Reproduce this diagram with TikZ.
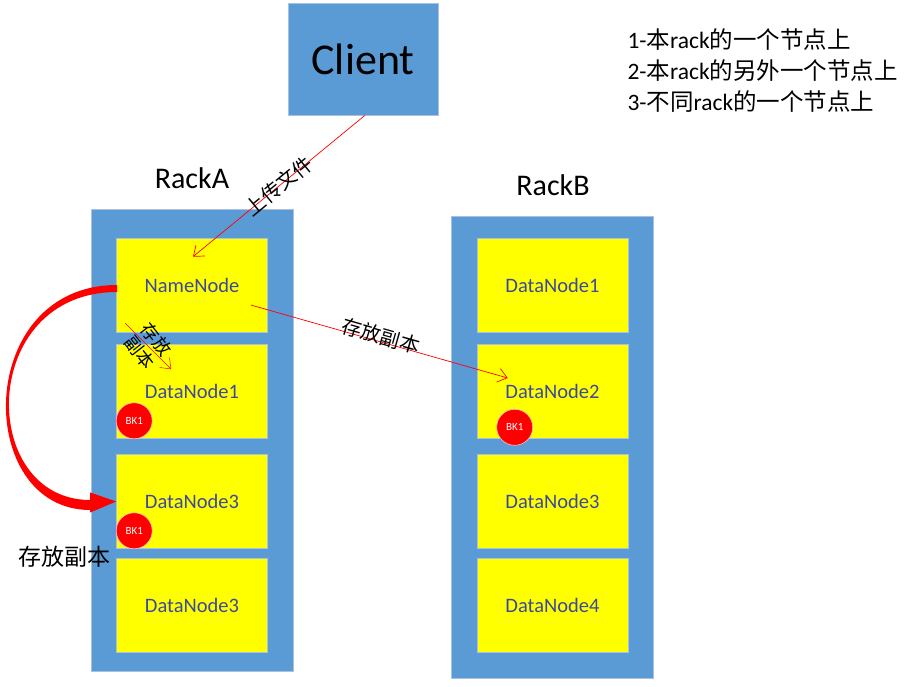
\documentclass[tikz,border=0pt]{standalone}
\usepackage{fontspec}
\setmainfont{Carlito}
\newfontfamily\cjk{Noto Sans CJK SC}
\usetikzlibrary{calc,arrows.meta}
\definecolor{rackblue}{HTML}{5B9BD5}
\definecolor{rackedge}{HTML}{A9C1E0}
\definecolor{nodetext}{HTML}{3A4A9E}
\definecolor{nodeyellow}{HTML}{FFFF00}
\def\fs#1{\fontsize{#1}{#1}\selectfont}
\tikzset{
	rack/.style={fill=rackblue, draw=rackedge, line width=0.6pt, minimum width=202pt, minimum height=462pt, inner sep=0pt},
	dnode/.style={fill=nodeyellow, draw=rackedge, line width=0.6pt, minimum width=151pt, minimum height=94pt, inner sep=0pt, text=nodetext, font=\fs{20.5}},
	bk/.style={circle, fill=red, draw=red!25, line width=0.6pt, minimum size=36pt, inner sep=0pt, text=white, font=\fs{11}},
	redline/.style={red, line width=0.7pt, -{Straight Barb[length=9pt,width=14pt]}},
	arrowlabel/.style={text=black, inner sep=1pt},
}

\begin{document}
\begin{tikzpicture}[x=1pt, y=1pt]
			%%%%% START %%%%%
			\useasboundingbox (0,0) rectangle (916,686);
			
			\node[fill=rackblue, draw=rackedge, line width=0.6pt, minimum width=150pt, minimum height=112pt, font=\fs{44}] (client) at (363,627) {Client};
			
			\node[anchor=west, font=\fs{23.5}] (l1) at (624,646) {1-{\cjk 本}rack{\cjk 的一个节点上}};
			\node[anchor=west, font=\fs{23.5}] (l2) at (624,615) {2-{\cjk 本}rack{\cjk 的另外一个节点上}};
			\node[anchor=west, font=\fs{23.5}] (l3) at (624,584) {3-{\cjk 不同}rack{\cjk 的一个节点上}};
			
			\node[font=\fs{30}] (laba) at (192,508) {RackA};
			\node[font=\fs{30}] (labb) at (553,501) {RackB};
			
			\node[rack] (ra) at (192,246) {};
			\node[dnode] (nn) at (192,401) {NameNode};
			\node[dnode] (a1) at (192,294.5) {DataNode1};
			\node[dnode] (a3) at (192,184.5) {DataNode3};
			\node[dnode] (a4) at (192,80.5) {DataNode3};
			
			\node[rack] (rb) at (552.5,239) {};
			\node[dnode] (b1) at (552.5,401) {DataNode1};
			\node[dnode] (b2) at (552.5,294.5) {DataNode2};
			\node[dnode] (b3) at (552.5,184.5) {DataNode3};
			\node[dnode] (b4) at (552.5,80.5) {DataNode4};
			
			% upload
			\draw[redline] ($(client.south)+(2,0)$) -- node[arrowlabel, midway, sloped, font=\cjk\fs{20}] {上传文件} ($(nn.north)+(1,-19)$);
			
			% copy to other rack
			\draw[redline] ($(nn.east)+(-17,-20)$) -- node[arrowlabel, midway, sloped, yshift=6pt, font=\cjk\fs{20}] {存放副本} ($(b2.west)+(31,13.5)$);
			
			% copy to DataNode1
			\draw[redline, line width=0.5pt] ($(nn.south west)+(9,9)$) -- node[arrowlabel, midway, rotate=-52, align=center, font=\cjk\fontsize{18}{21}\selectfont] {存放\\副本} ($(a1.north west)+(55,-25)$);
			
			% big curved arrow
			\fill[red] ($(nn.west)+(1,0)$) .. controls ($(nn.west)+(-142.5,0)$) and ($(a3.west)+(-142.5,-8.5)$) .. ($(a3.west)+(-26,-8.5)$)
				-- ($(a3.west)+(-26,-11)$) -- (a3.west) -- ($(a3.west)+(-26,9)$) -- ($(a3.west)+(-26,1.5)$)
				.. controls ($(a3.west)+(-138.5,1.5)$) and ($(nn.west)+(-138.5,-7)$) .. ($(nn.west)+(1,-7)$) -- cycle;
			\node[font=\cjk\fs{23}] (cplab) at (64,129) {存放副本};
			
			\node[bk] (bka) at ($(a1.south west)+(18,18)$) {BK1};
			\node[bk] (bkc) at ($(a3.south west)+(18,18)$) {BK1};
			\node[bk] (bkb) at ($(b2.south west)+(38,11.5)$) {BK1};
			
			%%%%% END %%%%%
\end{tikzpicture}
\end{document}
